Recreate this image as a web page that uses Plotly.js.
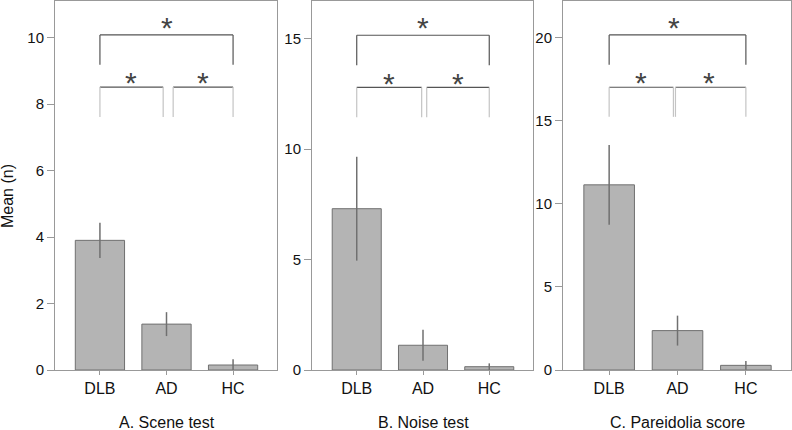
<!DOCTYPE html>
<html>
<head>
<meta charset="utf-8">
<script src="https://cdn.plot.ly/plotly-3.0.1.min.js"></script>
<style>html,body{margin:0;padding:0;background:#fff;}#chart{width:792px;height:430px;}</style>
</head>
<body>
<div id="chart"></div>
<script>
// ---- data ----
const categories = ['DLB', 'AD', 'HC'];
const panelTitles = ['A. Scene test', 'B. Noise test', 'C. Pareidolia score'];
const sceneMean = [3.9, 1.38, 0.15];
const sceneErr = [0.53, 0.36, 0.17];
const noiseMean = [7.3, 1.12, 0.15];
const noiseErr = [2.35, 0.7, 0.15];
const pareidoliaMean = [11.14, 2.37, 0.28];
const pareidoliaErr = [2.4, 0.9, 0.26];
const yMax = [11.1, 16.7, 22.2];
const yTickStep = [2, 5, 5];
// significance brackets (data units): [topLine, topDrop, lowLine, lowDrop]
const bracketLevels = [
  [10.08, 9.18, 8.51, 7.61],
  [15.15, 13.79, 12.79, 11.44],
  [20.16, 18.36, 17.01, 15.23]
];
// bracket x-extents: [lowLeftEnd, lowRightStart]
const bracketSplit = [[0.95, 1.1], [0.98, 1.056], [0.94, 0.97]];
// asterisk positions: x [top, left, right], y [top, lower]
const starX = [[1.0, 0.465, 1.55], [1.0, 0.49, 1.53], [0.95, 0.47, 1.46]];
const starY = [[10.45, 8.79], [15.71, 13.21], [20.9, 17.57]];

const means = [sceneMean, noiseMean, pareidoliaMean];
const errs = [sceneErr, noiseErr, pareidoliaErr];

const W = 792, H = 430;
const xDomains = [[55 / W, 277 / W], [312 / W, 533 / W], [563 / W, 791 / W]];
const yDomain = [(H - 370) / H, (H - 1) / H];
const FONT = 'Liberation Sans, Arial, sans-serif';

const data = [];
const layout = {
  width: W, height: H,
  margin: {l: 0, r: 0, t: 0, b: 0},
  paper_bgcolor: '#fff', plot_bgcolor: '#fff',
  showlegend: false,
  font: {family: FONT, color: '#111', size: 15},
  shapes: [], annotations: []
};

const dark = '#555';
const light = '#c4c4c4';

for (let i = 0; i < 3; i++) {
  const xa = i === 0 ? 'x' : 'x' + (i + 1);
  const ya = i === 0 ? 'y' : 'y' + (i + 1);
  data.push({
    type: 'bar', x: categories, y: means[i], xaxis: xa, yaxis: ya,
    width: 0.74,
    marker: {color: '#b4b4b4', line: {color: '#707070', width: 1}},
    error_y: {type: 'data', array: errs[i], visible: true, color: '#707070', thickness: 1.5, width: 0},
    hoverinfo: 'skip'
  });
  const tv = [];
  for (let v = 0; v <= yMax[i]; v += yTickStep[i]) tv.push(v);
  layout['xaxis' + (i === 0 ? '' : i + 1)] = {
    domain: xDomains[i], anchor: ya, type: 'category',
    range: [-0.675, 2.66], showgrid: false, zeroline: false,
    showline: true, mirror: true, linecolor: '#999', linewidth: 1,
    ticks: 'outside', ticklen: 4, tickcolor: '#999',
    tickfont: {family: FONT, size: 16, color: '#111'}
  };
  layout['yaxis' + (i === 0 ? '' : i + 1)] = {
    domain: yDomain, anchor: xa, range: [0, yMax[i]],
    showgrid: false, zeroline: false,
    showline: true, mirror: true, linecolor: '#999', linewidth: 1,
    ticks: 'outside', ticklen: 7, tickcolor: '#999',
    tickvals: tv, ticktext: tv.map(String),
    tickfont: {family: FONT, size: 15, color: '#111'}
  };
  const [tl, td, ll, ld] = bracketLevels[i];
  const [sl, sr] = bracketSplit[i];
  const ln = (x0, y0, x1, y1, c) => layout.shapes.push({type: 'line', xref: xa, yref: ya, x0, y0, x1, y1, line: {color: c, width: 1.2}});
  // top bracket
  ln(0, tl, 2, tl, dark); ln(0, tl, 0, td, dark); ln(2, tl, 2, td, dark);
  // lower left bracket
  ln(0, ll, sl, ll, dark); ln(0, ll, 0, ld, light); ln(sl, ll, sl, ld, light);
  // lower right bracket
  ln(sr, ll, 2, ll, dark); ln(sr, ll, sr, ld, light); ln(2, ll, 2, ld, light);
  // asterisks
  const st = (x, y) => layout.annotations.push({xref: xa, yref: ya, x, y, text: '*', showarrow: false,
    font: {family: FONT, size: 30, color: '#444'}, yanchor: 'middle', xanchor: 'center', yshift: -5});
  st(starX[i][0], starY[i][0]); st(starX[i][1], starY[i][1]); st(starX[i][2], starY[i][1]);
  // panel title
  layout.annotations.push({xref: xa, yref: 'paper', x: 1, y: (H - 422) / H, text: panelTitles[i], showarrow: false,
    font: {family: FONT, size: 16, color: '#111'}, yanchor: 'middle', xanchor: 'center'});
}
layout.annotations.push({xref: 'paper', yref: 'paper', x: 8 / W, y: (H - 196) / H, text: 'Mean (n)', textangle: -90,
  showarrow: false, font: {family: FONT, size: 16, color: '#111'}, xanchor: 'center', yanchor: 'middle'});

Plotly.newPlot('chart', data, layout, {displayModeBar: false, staticPlot: true});
</script>
</body>
</html>
